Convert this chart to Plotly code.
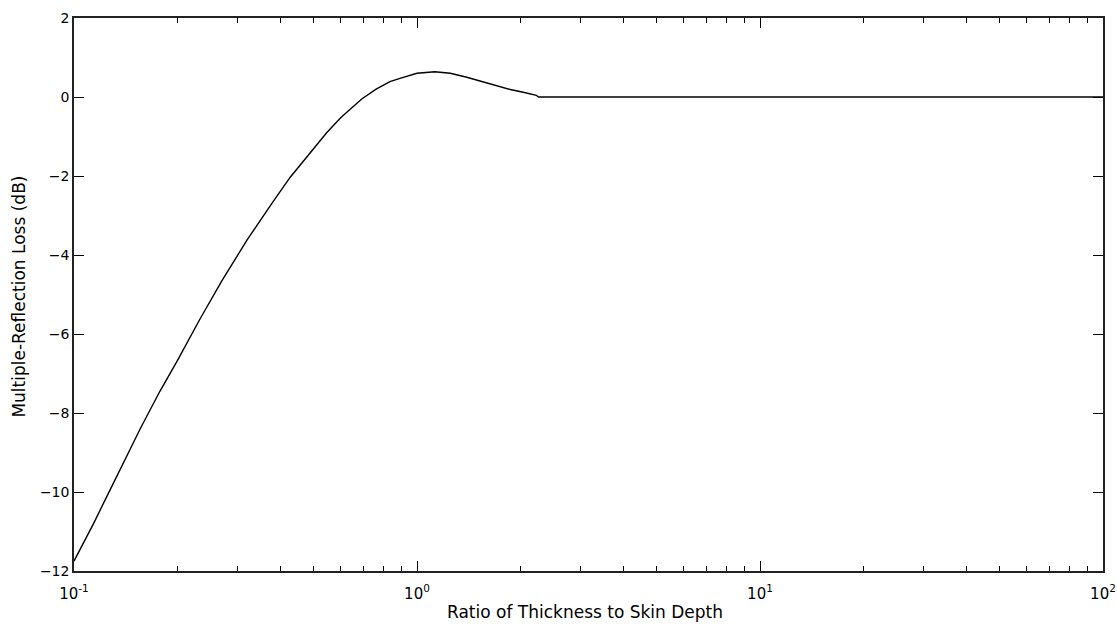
import plotly.graph_objects as go

# Ratio of shield thickness to skin depth (t / delta)
ratio = [0.1, 0.114, 0.127, 0.141, 0.156, 0.178, 0.2, 0.233, 0.27, 0.319,
         0.352, 0.381, 0.427, 0.48, 0.546, 0.6, 0.69, 0.76, 0.834, 0.892,
         0.95, 1.0, 1.127, 1.25, 1.397, 1.55, 1.707, 1.87, 2.04, 2.23,
         2.26, 100.0]

# Multiple-reflection correction term B (dB)
loss_db = [-11.75, -10.8, -9.97, -9.15, -8.4, -7.45, -6.68, -5.62, -4.65, -3.63,
           -3.07, -2.64, -2.03, -1.48, -0.9, -0.52, -0.05, 0.2, 0.39, 0.47,
           0.55, 0.6, 0.64, 0.6, 0.5, 0.39, 0.28, 0.19, 0.12, 0.04,
           0.0, 0.0]

x_tickvals = [0.1, 1, 10, 100]
x_ticktext = ["10<sup>-1</sup>", "10<sup>0</sup>", "10<sup>1</sup>", "10<sup>2</sup>"]
x_minor_vals = [m * d for d in (0.1, 1, 10) for m in range(2, 10)]
y_tickvals = [-12, -10, -8, -6, -4, -2, 0, 2]

x_title = "Ratio of Thickness to Skin Depth"
y_title = "Multiple-Reflection Loss (dB)"

font_family = "DejaVu Sans, Liberation Sans, sans-serif"

fig = go.Figure()
fig.add_trace(go.Scatter(
    x=ratio, y=loss_db, mode="lines",
    line=dict(color="black", width=1.4),
    hoverinfo="skip", showlegend=False,
))

fig.update_layout(
    template="none",
    width=1117, height=632,
    margin=dict(l=74, r=14, t=18, b=61, pad=0),
    paper_bgcolor="white", plot_bgcolor="white",
    font=dict(family=font_family, size=15, color="black"),
)

fig.update_xaxes(
    type="log", range=[-1, 2], automargin=False,
    tickvals=x_tickvals, ticktext=x_ticktext,
    ticks="inside", ticklen=10, tickwidth=1.2, tickcolor="black",
    minor=dict(tickmode="array", tickvals=x_minor_vals, ticks="inside",
               ticklen=5, tickwidth=1.2, tickcolor="black", showgrid=False),
    showline=True, linecolor="#222222", linewidth=1.5, mirror="allticks",
    showgrid=False, zeroline=False,
    tickfont=dict(size=15),
    ticklabelstandoff=8,
)

fig.update_yaxes(
    range=[-12, 2], tickvals=y_tickvals, automargin=False,
    ticks="inside", ticklen=10, tickwidth=1.2, tickcolor="black",
    showline=True, linecolor="#222222", linewidth=1.5, mirror="allticks",
    showgrid=False, zeroline=False,
    tickfont=dict(size=14),
)

# Axis titles placed as paper-anchored annotations
fig.add_annotation(
    text=x_title, xref="paper", yref="paper", x=0.497, y=-0.074,
    xanchor="center", yanchor="middle", showarrow=False,
    font=dict(size=17, family=font_family, color="black"),
)
fig.add_annotation(
    text=y_title, xref="paper", yref="paper", x=-0.053, y=0.497,
    xanchor="center", yanchor="middle", textangle=-90, showarrow=False,
    font=dict(size=17, family=font_family, color="black"),
)

fig.write_html("out.html")
